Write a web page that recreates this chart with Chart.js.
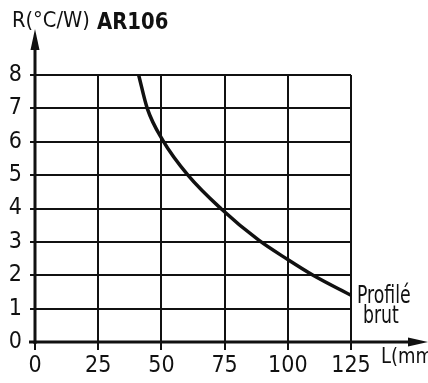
<!DOCTYPE html>
<html>
<head>
<meta charset="utf-8">
<script src="https://cdn.jsdelivr.net/npm/chart.js@4/dist/chart.umd.min.js"></script>
<style>
  html, body { margin: 0; padding: 0; background: #fff; }
  #wrap { width: 428px; height: 383px; position: relative; }
</style>
</head>
<body>
<div id="wrap"><canvas id="chart" width="428" height="383"></canvas></div>
<script>
// Thermal resistance vs. length, profile AR106 (raw profile)
const lengths = [41, 44.4, 50.5, 60.5, 73.5, 88.5, 100, 110, 125];
const resistances = [8, 7, 6.05, 5, 4, 3.05, 2.47, 2.0, 1.4];
const xTicks = [0, 25, 50, 75, 100, 125];
const yTicks = [0, 1, 2, 3, 4, 5, 6, 7, 8];

const FONT = "'Liberation Sans Narrow', 'DejaVu Sans Condensed', 'Arial Narrow', sans-serif";
const INK = "#111";

// narrow text, squeezed horizontally like the stencil lettering
function squeezed(ctx, text, x, y, size, sx, weight) {
    ctx.save();
    ctx.translate(x, y);
    ctx.scale(sx, 1);
    ctx.font = (weight || "") + " " + size + "px " + FONT;
    ctx.fillText(text, 0, 0);
    ctx.restore();
}

// arrows, axis names and the curve label
const decorations = {
    id: "decorations",
    afterDraw(chart) {
        const ctx = chart.ctx;
        const x = chart.scales.x, y = chart.scales.y;
        const x0 = x.getPixelForValue(0), y0 = y.getPixelForValue(0);
        ctx.save();
        ctx.strokeStyle = INK;
        ctx.fillStyle = INK;
        ctx.lineWidth = 3;

        // y axis with arrow
        ctx.beginPath();
        ctx.moveTo(x0, y0 + 2);
        ctx.lineTo(x0, 45);
        ctx.stroke();
        ctx.beginPath();
        ctx.moveTo(x0, 29);
        ctx.lineTo(x0 - 4.5, 50);
        ctx.lineTo(x0 + 4.5, 50);
        ctx.closePath();
        ctx.fill();

        // x axis with arrow
        ctx.beginPath();
        ctx.moveTo(x0 - 6, y0);
        ctx.lineTo(418, y0);
        ctx.stroke();
        ctx.beginPath();
        ctx.moveTo(428, y0);
        ctx.lineTo(408, y0 - 4.5);
        ctx.lineTo(408, y0 + 4.5);
        ctx.closePath();
        ctx.fill();

        ctx.textBaseline = "alphabetic";
        ctx.textAlign = "left";
        squeezed(ctx, "R(°C/W)", 12, 27, 21, 1.03);
        squeezed(ctx, "AR106", 97, 29, 23, 0.95, "bold");
        squeezed(ctx, "L(mm)", 381, 363, 21, 0.95);

        const ex = x.getPixelForValue(lengths[lengths.length - 1]);
        const ey = y.getPixelForValue(resistances[resistances.length - 1]);
        squeezed(ctx, "Profilé", ex + 6, ey + 8, 24, 0.8);
        squeezed(ctx, "brut", ex + 12, ey + 28, 24, 0.8);
        ctx.restore();
    }
};

new Chart(document.getElementById("chart"), {
    type: "line",
    data: {
        datasets: [{
            data: lengths.map((l, i) => ({ x: l, y: resistances[i] })),
            borderColor: INK,
            borderWidth: 3.5,
            pointRadius: 0,
            cubicInterpolationMode: "monotone",
            fill: false
        }]
    },
    options: {
        responsive: false,
        animation: false,
        layout: { padding: { top: 75, right: 77, left: 0, bottom: 0 } },
        plugins: { legend: { display: false }, tooltip: { enabled: false } },
        scales: {
            x: {
                type: "linear",
                min: 0, max: 125,
                afterBuildTicks: s => { s.ticks = xTicks.map(v => ({ value: v })); },
                afterFit: s => { s.height = 41; },
                ticks: { color: INK, font: { family: FONT, size: 23 }, padding: 2, maxRotation: 0 },
                grid: { color: INK, lineWidth: 2, tickLength: 8, tickColor: INK },
                border: { display: false }
            },
            y: {
                min: 0, max: 8,
                afterBuildTicks: s => { s.ticks = yTicks.map(v => ({ value: v })); },
                afterFit: s => { s.width = 35; },
                ticks: { color: INK, font: { family: FONT, size: 23 }, padding: 8 },
                grid: { color: INK, lineWidth: 2, tickLength: 5, tickColor: INK },
                border: { display: false }
            }
        }
    },
    plugins: [decorations]
});
</script>
</body>
</html>
